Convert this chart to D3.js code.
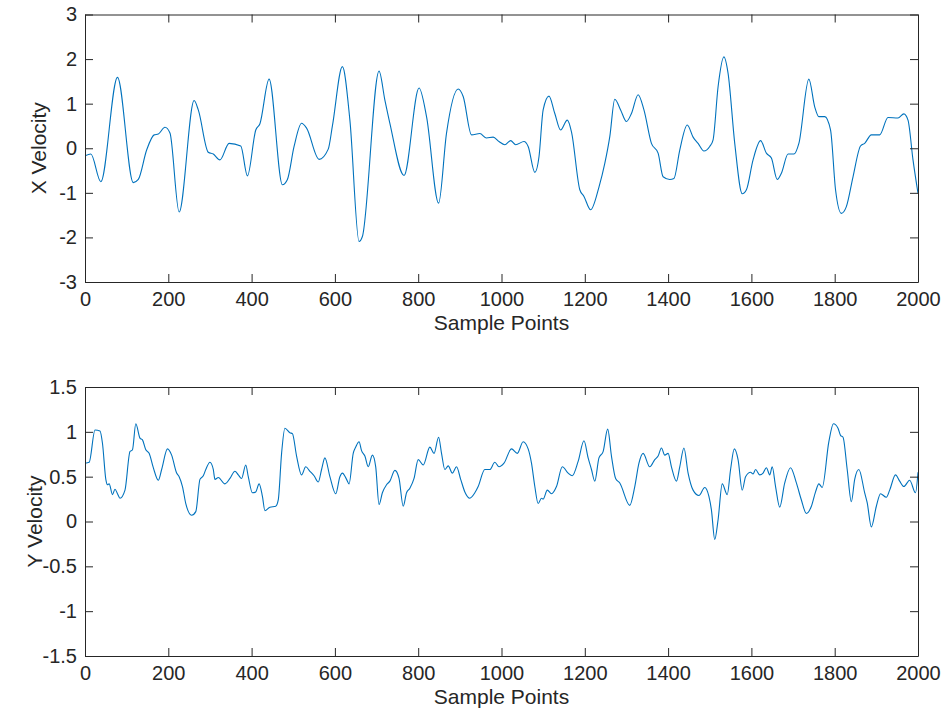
<!DOCTYPE html>
<html>
<head>
<meta charset="utf-8">
<script src="https://cdn.jsdelivr.net/npm/d3@7"></script>
<style>
  html, body { margin: 0; padding: 0; background: #fff; }
  svg { display: block; }
  text { font-family: "Liberation Sans", Arial, Helvetica, sans-serif; fill: #262626; }
</style>
</head>
<body>
<svg id="chart" width="944" height="711"></svg>
<script>
// ---- Data ----
const xVelSamples = [0,14,38,78,116,128,148,166,176,192,204,226,262,272,296,308,324,346,374,390,410,420,442,474,486,502,520,532,562,584,594,618,636,658,666,706,720,732,766,802,820,849,868,896,908,928,948,964,980,994,1008,1022,1034,1054,1064,1080,1090,1100,1114,1128,1142,1158,1168,1188,1198,1214,1234,1248,1260,1272,1286,1300,1312,1328,1342,1360,1376,1388,1404,1414,1428,1446,1460,1472,1486,1500,1508,1520,1534,1544,1560,1578,1588,1604,1622,1636,1648,1662,1672,1688,1702,1714,1738,1752,1762,1776,1790,1802,1816,1828,1844,1862,1872,1888,1908,1928,1952,1966,1976,1988,2000];
const xVelValues = [-0.17,-0.13,-0.75,1.59,-0.77,-0.7,-0.04,0.3,0.32,0.47,0.34,-1.43,1.07,0.86,-0.09,-0.13,-0.26,0.11,0.05,-0.62,0.41,0.55,1.55,-0.82,-0.7,0.04,0.56,0.45,-0.25,-0.02,0.5,1.83,0.63,-2.09,-1.98,1.73,1.08,0.56,-0.61,1.35,0.71,-1.23,0.34,1.33,1.16,0.3,0.33,0.23,0.25,0.15,0.08,0.17,0.08,0.15,0.04,-0.54,-0.19,0.86,1.17,0.78,0.41,0.63,0.37,-0.93,-1.08,-1.38,-0.87,-0.34,0.26,1.1,0.86,0.6,0.78,1.2,0.86,0.11,-0.11,-0.64,-0.7,-0.68,-0.04,0.52,0.25,0.11,-0.06,0.04,0.19,1.38,2.05,1.68,0.11,-1.02,-0.93,-0.26,0.17,-0.11,-0.22,-0.7,-0.56,-0.13,-0.13,0.11,1.55,0.93,0.71,0.71,0.41,-0.93,-1.46,-1.31,-0.64,0.05,0.11,0.3,0.3,0.69,0.68,0.77,0.63,-0.26,-1.01];

const yVelSamples = [0,10,24,36,42,50,54,58,66,72,78,84,96,108,114,122,132,138,146,154,164,176,184,198,208,220,226,234,242,256,266,276,284,290,300,308,312,320,336,348,360,368,376,386,392,402,410,418,426,432,444,458,464,472,480,492,498,508,520,530,540,550,560,568,576,588,602,612,618,628,634,644,650,658,664,672,680,690,698,706,714,724,732,744,754,764,772,780,790,800,812,828,838,849,856,864,872,882,892,902,912,924,936,944,960,972,984,994,1006,1024,1038,1052,1064,1072,1080,1088,1096,1100,1110,1120,1132,1146,1160,1170,1184,1198,1208,1216,1224,1234,1244,1255,1264,1274,1284,1308,1320,1330,1340,1356,1368,1376,1384,1392,1400,1408,1420,1428,1438,1448,1460,1474,1488,1498,1504,1512,1520,1530,1542,1550,1559,1568,1578,1586,1598,1604,1610,1620,1628,1636,1644,1650,1658,1668,1680,1694,1708,1720,1732,1744,1754,1762,1770,1786,1797,1808,1814,1820,1830,1840,1848,1858,1872,1878,1888,1900,1910,1924,1932,1946,1956,1966,1980,1994,2000];
const yVelValues = [0.65,0.66,1.02,1.01,0.87,0.47,0.41,0.42,0.3,0.36,0.31,0.26,0.35,0.78,0.8,1.09,0.93,0.91,0.8,0.76,0.6,0.46,0.58,0.81,0.74,0.54,0.5,0.39,0.2,0.07,0.11,0.47,0.51,0.58,0.66,0.58,0.47,0.49,0.42,0.48,0.56,0.52,0.48,0.63,0.5,0.32,0.33,0.42,0.28,0.12,0.16,0.17,0.24,0.76,1.04,0.99,0.98,0.73,0.52,0.61,0.56,0.51,0.44,0.58,0.71,0.5,0.31,0.5,0.54,0.47,0.42,0.76,0.83,0.89,0.79,0.73,0.61,0.74,0.61,0.19,0.32,0.41,0.45,0.57,0.48,0.17,0.32,0.37,0.48,0.69,0.63,0.83,0.76,0.94,0.76,0.58,0.62,0.54,0.61,0.47,0.33,0.26,0.32,0.39,0.58,0.58,0.66,0.61,0.65,0.81,0.76,0.89,0.81,0.65,0.39,0.2,0.26,0.25,0.35,0.31,0.39,0.61,0.54,0.51,0.67,0.9,0.71,0.58,0.45,0.71,0.78,1.03,0.73,0.48,0.43,0.18,0.39,0.65,0.76,0.61,0.69,0.73,0.82,0.74,0.76,0.61,0.45,0.61,0.82,0.54,0.35,0.29,0.38,0.28,0.13,-0.2,0.02,0.42,0.3,0.58,0.81,0.69,0.35,0.5,0.55,0.53,0.58,0.52,0.54,0.6,0.52,0.61,0.39,0.16,0.43,0.6,0.43,0.24,0.09,0.17,0.33,0.42,0.38,0.89,1.09,1.04,0.96,0.94,0.58,0.22,0.47,0.58,0.32,0.21,-0.06,0.17,0.31,0.27,0.35,0.52,0.45,0.39,0.46,0.32,0.55];

const xTicks = [0,200,400,600,800,1000,1200,1400,1600,1800,2000];
const topYTicks = [-3,-2,-1,0,1,2,3];
const botYTicks = [-1.5,-1,-0.5,0,0.5,1,1.5];
const xLabelText = "Sample Points";
const topYLabelText = "X Velocity";
const botYLabelText = "Y Velocity";

// ---- Drawing ----
const svg = d3.select("#chart");
const AX = "#262626";
const LINE = "#0072BD";
const TICK_FONT = 20;
const LABEL_FONT = 21;
const TICK_LEN = 8;

function drawPanel(cfg) {
  const { left, right, top, bottom, yDomain, yTicks, xs, ys, yLabel, yLabelX, fmt } = cfg;
  const x = d3.scaleLinear().domain([0, 2000]).range([left, right]);
  const y = d3.scaleLinear().domain(yDomain).range([bottom, top]);
  const g = svg.append("g");

  const data = xs.map((d, i) => [d, ys[i]]);
  const clipId = "clip" + Math.round(top);
  svg.append("clipPath").attr("id", clipId).append("rect")
    .attr("x", left).attr("y", top).attr("width", right - left).attr("height", bottom - top);
  g.append("path")
    .datum(data)
    .attr("clip-path", `url(#${clipId})`)
    .attr("fill", "none")
    .attr("stroke", LINE)
    .attr("stroke-width", 1.1)
    .attr("stroke-linejoin", "round")
    .attr("d", d3.line().x(d => x(d[0])).y(d => y(d[1])).curve(d3.curveMonotoneX));

  const axB = d3.axisBottom(x).tickValues(xTicks).tickSizeInner(-TICK_LEN).tickSizeOuter(0).tickPadding(10).tickFormat(d3.format("d"));
  const axT = d3.axisTop(x).tickValues(xTicks).tickSizeInner(-TICK_LEN).tickSizeOuter(0).tickFormat("");
  const axL = d3.axisLeft(y).tickValues(yTicks).tickSizeInner(-TICK_LEN).tickSizeOuter(0).tickPadding(8).tickFormat(fmt);
  const axR = d3.axisRight(y).tickValues(yTicks).tickSizeInner(-TICK_LEN).tickSizeOuter(0).tickFormat("");

  const styleAxis = sel => {
    sel.select(".domain").attr("stroke", AX).attr("stroke-width", 1);
    sel.selectAll(".tick line").attr("stroke", AX).attr("stroke-width", 1);
    sel.selectAll(".tick text").attr("fill", AX).style("font-size", TICK_FONT + "px")
      .style("font-family", '"Liberation Sans", Arial, Helvetica, sans-serif');
  };
  g.append("g").attr("transform", `translate(0,${bottom})`).call(axB).call(styleAxis);
  g.append("g").attr("transform", `translate(0,${top})`).call(axT).call(styleAxis);
  g.append("g").attr("transform", `translate(${left},0)`).call(axL).call(styleAxis);
  g.append("g").attr("transform", `translate(${right},0)`).call(axR).call(styleAxis);

  g.append("text")
    .attr("x", (left + right) / 2)
    .attr("y", bottom + 48)
    .attr("text-anchor", "middle")
    .style("font-size", LABEL_FONT + "px")
    .text(xLabelText);
  g.append("text")
    .attr("transform", `translate(${yLabelX},${(top + bottom) / 2}) rotate(-90)`)
    .attr("text-anchor", "middle")
    .style("font-size", LABEL_FONT + "px")
    .text(yLabel);
}

const fmtTop = d => String(d);
const fmtBot = d => String(d);

drawPanel({ left: 85, right: 918, top: 14.5, bottom: 282, yDomain: [-3, 3], yTicks: topYTicks,
  xs: xVelSamples, ys: xVelValues, yLabel: topYLabelText, yLabelX: 46, fmt: fmtTop });
drawPanel({ left: 85, right: 918, top: 387, bottom: 656, yDomain: [-1.5, 1.5], yTicks: botYTicks,
  xs: yVelSamples, ys: yVelValues, yLabel: botYLabelText, yLabelX: 42, fmt: fmtBot });
</script>
</body>
</html>
